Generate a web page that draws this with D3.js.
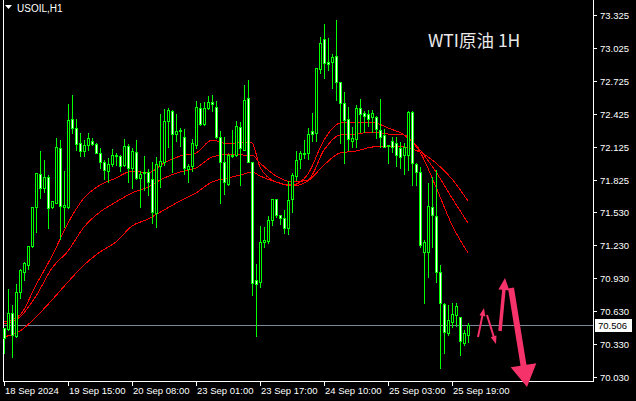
<!DOCTYPE html>
<html><head><meta charset="utf-8">
<script src="https://cdn.jsdelivr.net/npm/d3@7"></script>
<style>
html,body{margin:0;padding:0;background:#000;}
svg{display:block;}
</style></head>
<body>
<svg id="chart" width="636" height="401"></svg>
<script>
// ---- DATA ----
const symbolTitle = "USOIL,H1";
const chartTitle = "WTI原油 1H";
const lastPrice = 70.506;
// hourly candles: [open, high, low, close]
const candles = [
[70.476,70.480,70.249,70.385],[70.467,70.831,70.458,70.613],[70.613,70.685,70.212,70.412],[70.403,70.877,70.394,70.804],
[70.804,71.013,70.749,71.004],[70.986,71.077,70.913,71.068],[71.050,71.222,71.013,71.222],[71.222,71.577,71.213,71.577],
[71.577,71.887,71.350,71.887],[71.878,72.087,71.659,71.750],[71.750,72.005,71.714,71.850],[71.850,71.869,71.386,71.568],
[71.577,71.632,71.568,71.632],[71.614,72.205,71.614,72.123],[72.114,72.187,71.286,71.586],[71.577,71.905,71.395,71.595],
[71.577,72.515,71.568,72.369],[72.378,72.597,72.251,72.296],[72.296,72.378,72.096,72.151],[72.160,72.251,72.041,72.087],
[72.087,72.187,72.041,72.142],[72.142,72.251,72.096,72.205],[72.178,72.205,72.142,72.151],[72.151,72.160,72.069,72.069],
[72.069,72.114,71.932,71.987],[71.987,72.005,71.832,71.914],[71.905,72.023,71.805,71.969],[71.969,72.105,71.950,72.050],
[72.041,72.069,71.959,72.050],[72.041,72.050,71.905,71.950],[71.959,72.196,71.950,72.132],[72.132,72.151,71.805,71.932],
[71.932,72.114,71.750,72.087],[72.078,72.187,71.832,71.841],[71.841,71.905,71.577,71.878],[71.896,72.041,71.732,71.887],
[71.896,71.923,71.686,71.805],[71.832,71.987,71.432,71.532],[71.523,72.032,71.395,71.969],[71.950,72.424,71.759,71.996],
[71.987,72.469,71.959,72.360],[72.360,72.478,72.123,72.460],[72.451,72.460,71.896,72.242],[72.242,72.424,72.178,72.269],
[72.278,72.296,72.132,72.269],[72.214,72.287,71.878,71.932],[71.923,71.969,71.805,71.950],[71.950,72.196,71.905,72.160],
[72.142,72.542,72.114,72.487],[72.478,72.524,72.324,72.333],[72.333,72.533,72.324,72.478],[72.478,72.588,72.469,72.533],
[72.533,72.597,72.451,72.515],[72.487,72.542,72.205,72.214],[72.214,72.269,71.614,71.987],[71.987,72.214,71.696,71.805],
[71.787,72.060,71.778,72.050],[72.041,72.278,72.032,72.050],[72.050,72.360,72.041,72.315],[72.306,72.351,71.778,72.114],
[72.096,72.688,72.096,72.551],[72.569,72.733,71.987,71.987],[71.987,71.987,70.776,70.886],[70.913,71.059,70.403,70.877],
[70.895,71.404,70.850,71.259],[71.259,71.395,71.213,71.277],[71.268,71.495,71.250,71.459],[71.459,71.650,71.414,71.650],
[71.650,71.650,71.486,71.504],[71.504,71.504,71.423,71.477],[71.477,71.550,71.341,71.386],[71.386,71.814,71.332,71.641],
[71.650,71.887,71.532,71.869],[71.860,72.087,71.823,72.005],[72.014,72.087,71.932,72.069],[72.060,72.187,72.023,72.069],
[72.069,72.296,72.014,72.242],[72.269,72.433,72.178,72.242],[72.251,72.842,72.178,72.842],[72.833,73.125,72.797,73.070],
[73.106,73.243,72.752,72.888],[72.897,73.116,72.824,72.879],[72.897,72.970,72.660,72.943],[72.952,73.279,72.551,72.715],
[72.715,72.715,72.160,72.524],[72.524,72.624,71.978,72.369],[72.378,72.487,72.096,72.196],[72.178,72.306,72.123,72.205],
[72.196,72.506,72.123,72.478],[72.478,72.560,72.260,72.424],[72.433,72.451,72.260,72.406],[72.424,72.460,72.315,72.378],
[72.397,72.460,72.260,72.433],[72.397,72.406,72.205,72.287],[72.278,72.560,72.123,72.214],[72.233,72.287,72.123,72.123],
[72.132,72.142,71.978,72.142],[72.178,72.214,72.078,72.123],[72.160,72.214,71.950,72.050],[72.114,72.169,71.932,72.032],
[72.050,72.160,71.878,72.123],[72.050,72.451,71.914,72.442],[72.442,72.451,71.778,71.978],[71.969,71.978,71.778,71.896],
[71.896,71.941,71.213,71.232],[71.168,71.277,70.704,71.259],[71.168,71.796,70.940,71.586],[71.577,71.850,71.213,71.504],
[71.495,71.914,70.895,70.986],[70.986,71.050,70.112,70.704],[70.694,70.704,70.249,70.440],[70.431,70.685,70.412,70.549],
[70.531,70.704,70.485,70.603],[70.594,70.704,70.494,70.676],[70.576,70.576,70.230,70.358],[70.340,70.458,70.321,70.431],
[70.412,70.525,70.349,70.506]
];
// moving averages: bar index and value
const maBars = [0,4,8,12,16,20,24,28,32,36,40,44,48,52,56,60,62,64,68,72,76,80,84,88,92,96,100,104,108,112,116];
const maFast = [70.530,70.594,70.868,71.131,71.432,71.659,71.778,71.841,71.905,71.887,71.978,72.041,72.069,72.187,72.151,72.169,72.160,71.941,71.805,71.778,71.878,72.187,72.342,72.351,72.351,72.296,72.233,72.078,71.759,71.414,71.159];
const maMid  = [70.512,70.576,70.767,71.022,71.177,71.395,71.532,71.623,71.705,71.759,71.841,71.896,71.932,72.032,72.060,72.050,72.050,71.978,71.860,71.805,71.823,72.096,72.233,72.242,72.260,72.242,72.233,72.096,71.896,71.659,71.432];
const maSlow = [70.394,70.449,70.576,70.731,70.895,71.050,71.168,71.259,71.404,71.468,71.550,71.632,71.705,71.805,71.841,71.878,71.896,71.860,71.805,71.768,71.814,71.959,72.069,72.087,72.123,72.132,72.123,72.078,71.978,71.832,71.632];
// y axis tick labels
const priceTicks = [73.325,73.025,72.725,72.425,72.125,71.825,71.530,71.230,70.930,70.630,70.330,70.030];
const priceTickLabels = ["73.325","73.025","72.725","72.425","72.125","71.825","71.530","71.230","70.930","70.630","70.330","70.030"];
// time axis
const timeTickBars = [0,16,32,48,64,80,96,112];
const timeTickLabels = ["18 Sep 2024","19 Sep 15:00","20 Sep 08:00","23 Sep 01:00","23 Sep 17:00","24 Sep 10:00","25 Sep 03:00","25 Sep 19:00"];
// forecast arrows: [fromBar, fromPrice, toBar, toPrice]
const arrows = [
  [118.5, 70.394, 120.0, 70.658],
  [120.75, 70.594, 123.0, 70.331],
  [124.0, 70.449, 125.25, 70.931],
  [126.75, 70.840, 130.75, 69.939]
];
// ---- STYLE ----
const arrowStyle = [
  {shaft:2, headW:6, headL:8},
  {shaft:2, headW:6, headL:8},
  {shaft:3.5, headW:11, headL:12},
  {shaft:6, headW:26, headL:22}
];
const W = 636, H = 401;
const plotL = 3, plotR = 593, plotB = 381;
const svg = d3.select("#chart");
svg.append("rect").attr("width",W).attr("height",H).attr("fill","#000");

const x = d3.scaleLinear().domain([0,147]).range([4,592]);
const y = d3.scaleLinear().domain([70.030,73.325]).range([377,15]);
const g = svg.append("g").attr("shape-rendering","crispEdges");

// frame
g.append("line").attr("x1",plotL+0.5).attr("x2",plotL+0.5).attr("y1",0).attr("y2",plotB+0.5).attr("stroke","#fff");
g.append("line").attr("x1",plotR+0.5).attr("x2",plotR+0.5).attr("y1",0).attr("y2",plotB+0.5).attr("stroke","#fff");
g.append("line").attr("x1",plotL).attr("x2",plotR+1).attr("y1",plotB+0.5).attr("y2",plotB+0.5).attr("stroke","#fff");

// bid line
g.append("line").attr("x1",plotL+1).attr("x2",plotR).attr("y1",Math.round(y(lastPrice))+0.5).attr("y2",Math.round(y(lastPrice))+0.5).attr("stroke","#778899");

// MAs
const maLine = arr => d3.line().x((d,i)=>x(maBars[i])).y(d=>y(d)).curve(d3.curveMonotoneX)(arr);
[maSlow, maMid, maFast].forEach(a=>{
  svg.append("path").attr("d",maLine(a)).attr("fill","none").attr("stroke","#ff0000").attr("stroke-width",1)
    .attr("shape-rendering","crispEdges");
});

// candles
const cg = svg.append("g").attr("shape-rendering","crispEdges");
candles.forEach((c,i)=>{
  const [o,h,l,cl] = c;
  const cx = Math.round(x(i));
  const yh = Math.round(y(h)), yl = Math.round(y(l));
  cg.append("rect").attr("x",cx).attr("y",yh).attr("width",1).attr("height",Math.max(1,yl-yh+1)).attr("fill","#00ff00");
  const top = Math.round(y(Math.max(o,cl))), bot = Math.round(y(Math.min(o,cl)));
  cg.append("rect").attr("x",cx-1).attr("y",top).attr("width",3).attr("height",bot-top+1).attr("fill","#00ff00");
  if (bot-top-1>0) cg.append("rect").attr("x",cx).attr("y",top+1).attr("width",1).attr("height",bot-top-1).attr("fill", cl<o ? "#ffffff" : "#000000");
});

// right axis
const ax = svg.append("g");
priceTicks.forEach((p,i)=>{
  const yy = Math.round(y(p));
  ax.append("line").attr("x1",plotR).attr("x2",plotR+4).attr("y1",yy+0.5).attr("y2",yy+0.5).attr("stroke","#fff").attr("shape-rendering","crispEdges");
  ax.append("text").attr("x",600).attr("y",yy+4).text(priceTickLabels[i])
    .attr("fill","#fff").attr("font-family","Liberation Sans, Arial, sans-serif").attr("font-size","9.5px");
});
// price label
const ly = Math.round(y(lastPrice));
ax.append("rect").attr("x",595).attr("y",ly-6).attr("width",37).attr("height",13).attr("fill","#fff");
ax.append("text").attr("x",598).attr("y",ly+4).text(lastPrice.toFixed(3))
  .attr("fill","#000").attr("font-family","Liberation Sans, Arial, sans-serif").attr("font-size","9.5px");

// bottom axis
timeTickBars.forEach((b,i)=>{
  const xx = Math.round(x(b));
  ax.append("line").attr("x1",xx+0.5).attr("x2",xx+0.5).attr("y1",plotB).attr("y2",plotB+5).attr("stroke","#fff").attr("shape-rendering","crispEdges");
  ax.append("text").attr("x",xx+1).attr("y",394).text(timeTickLabels[i])
    .attr("fill","#fff").attr("font-family","Liberation Sans, Arial, sans-serif").attr("font-size","9.5px");
});

// top-left label
svg.append("path").attr("d","M5,5 L12,5 L8.5,9 Z").attr("fill","#fff");
svg.append("text").attr("x",17).attr("y",12).text(symbolTitle).attr("fill","#fff")
  .attr("font-family","Liberation Sans, Arial, sans-serif").attr("font-size","10px");

// title
svg.append("text").attr("x",428).attr("y",47).text(chartTitle).attr("fill","#e8e8e8")
  .attr("font-family","Noto Sans CJK SC, Noto Sans, sans-serif").attr("font-size","17.5px");

// arrows
arrows.forEach((a,i)=>{
  const s = arrowStyle[i];
  const x1 = x(a[0]), y1 = y(a[1]), x2 = x(a[2]), y2 = y(a[3]);
  const dx = x2-x1, dy = y2-y1, len = Math.hypot(dx,dy);
  const ux = dx/len, uy = dy/len, px = -uy, py = ux;
  const bx = x2-ux*s.headL, by = y2-uy*s.headL;
  const pts = [
    [x1+px*s.shaft/2, y1+py*s.shaft/2],
    [bx+px*s.shaft/2, by+py*s.shaft/2],
    [bx+px*s.headW/2, by+py*s.headW/2],
    [x2, y2],
    [bx-px*s.headW/2, by-py*s.headW/2],
    [bx-px*s.shaft/2, by-py*s.shaft/2],
    [x1-px*s.shaft/2, y1-py*s.shaft/2]
  ];
  svg.append("path").attr("d","M"+pts.map(p=>p.join(",")).join("L")+"Z").attr("fill","#f5336a");
});
</script>
</body></html>
